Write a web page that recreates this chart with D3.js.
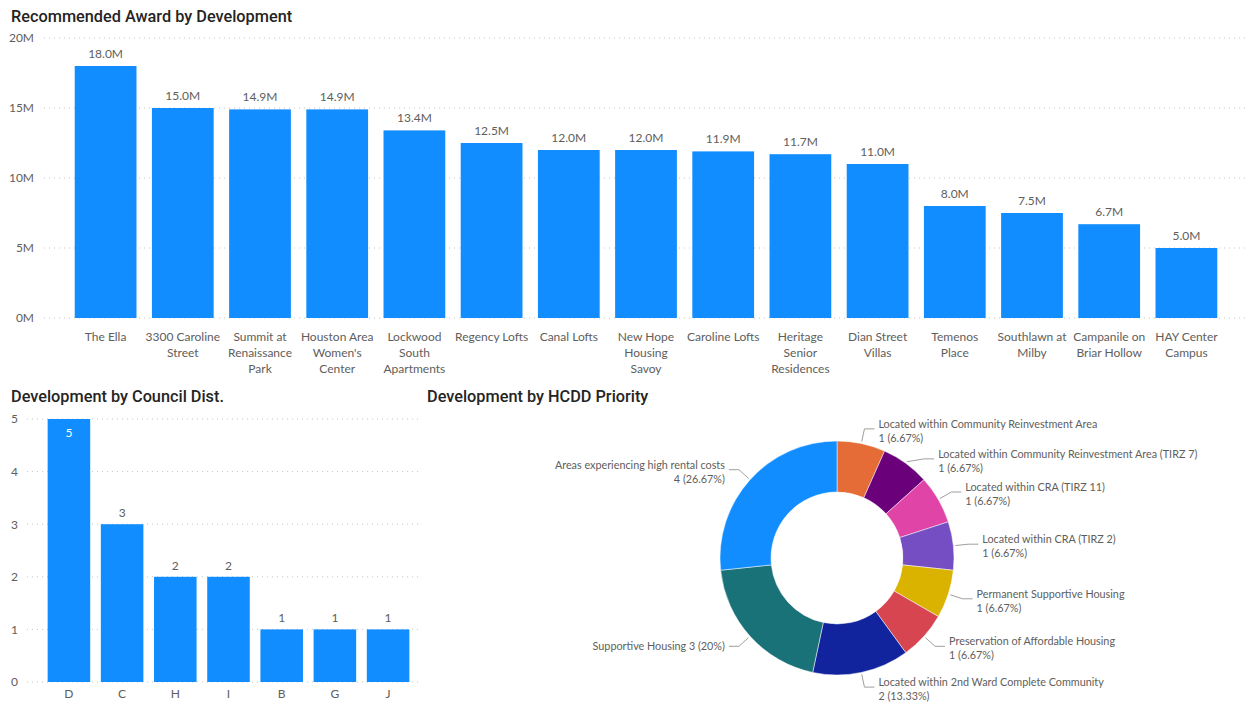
<!DOCTYPE html>
<html><head><meta charset="utf-8">
<script src="https://cdn.jsdelivr.net/npm/d3@7"></script>
<style>
html,body{margin:0;padding:0;background:#fff;}
svg{display:block;}
</style></head>
<body>
<svg id="chart" width="1245" height="702"></svg>
<script>
// ---------- DATA ----------
const developments = ["The Ella","3300 Caroline Street","Summit at Renaissance Park","Houston Area Women's Center","Lockwood South Apartments","Regency Lofts","Canal Lofts","New Hope Housing Savoy","Caroline Lofts","Heritage Senior Residences","Dian Street Villas","Temenos Place","Southlawn at Milby","Campanile on Briar Hollow","HAY Center Campus"];
const awards = [18.0e6,15.0e6,14.9e6,14.9e6,13.4e6,12.5e6,12.0e6,12.0e6,11.9e6,11.7e6,11.0e6,8.0e6,7.5e6,6.7e6,5.0e6];
const awardTicks = [0,5e6,10e6,15e6,20e6];

const districts = ["D","C","H","I","B","G","J"];
const districtCounts = [5,3,2,2,1,1,1];
const districtTicks = [0,1,2,3,4,5];

const priorities = ["Located within Community Reinvestment Area","Located within Community Reinvestment Area (TIRZ 7)","Located within CRA (TIRZ 11)","Located within CRA (TIRZ 2)","Permanent Supportive Housing","Preservation of Affordable Housing","Located within 2nd Ward Complete Community","Supportive Housing","Areas experiencing high rental costs"];
const priorityCounts = [1,1,1,1,1,1,2,3,4];
const priorityColors = ["#E66C37","#6B007B","#E044A7","#744EC2","#D9B300","#D64550","#12239E","#197278","#118DFF"];

// ---------- STYLE ----------
const BAR = "#118DFF";
const AXIS_TXT = "#605E5C";
const TITLE_TXT = "#252423";
const GRID = "#C8C6C4";
const FONT = "'Segoe UI','Lato','Open Sans',sans-serif";
const TITLE_FONT = "'DIN','Roboto','Noto Sans',sans-serif";
const FS = 12;

const svg = d3.select("#chart");

function title(x, y, t){
  svg.append("text").attr("x",x).attr("y",y).text(t)
    .attr("font-family",TITLE_FONT).attr("font-size",16.3).attr("font-weight",500)
    .attr("fill",TITLE_TXT);
}

function wrap(textSel, width){
  textSel.each(function(){
    const text = d3.select(this);
    const words = text.text().split(/\s+/);
    text.text(null);
    let line = [];
    let tspan = text.append("tspan").attr("x",0).attr("dy",0);
    words.forEach(w=>{
      line.push(w);
      tspan.text(line.join(" "));
      if (tspan.node().getComputedTextLength() > width && line.length>1){
        line.pop();
        tspan.text(line.join(" "));
        line=[w];
        tspan = text.append("tspan").attr("x",0).attr("dy",16).text(w);
      }
    });
  });
}

// ---------- TOP BAR CHART ----------
title(11, 22, "Recommended Award by Development");
{
  const x = d3.scaleBand().domain(developments).range([67,1225]).paddingInner(0.2).paddingOuter(0.1);
  const y = d3.scaleLinear().domain([0,20e6]).range([318,38]);
  const g = svg.append("g");
  g.selectAll("line.grid").data(awardTicks).join("line")
    .attr("x1",44).attr("x2",1245).attr("y1",d=>y(d)).attr("y2",d=>y(d))
    .attr("stroke",GRID).attr("stroke-width",1).attr("stroke-dasharray","1,4");
  const ya = g.append("g").attr("transform","translate(34,0)")
    .call(d3.axisLeft(y).tickValues(awardTicks).tickSize(0).tickPadding(0).tickFormat(d=>(d/1e6)+"M"));
  ya.select(".domain").remove();
  ya.selectAll("text").attr("font-family",FONT).attr("font-size",FS).attr("fill",AXIS_TXT);
  g.selectAll("rect.bar").data(awards).join("rect")
    .attr("x",(d,i)=>x(developments[i])).attr("width",x.bandwidth())
    .attr("y",d=>y(d)).attr("height",d=>y(0)-y(d)).attr("fill",BAR);
  g.selectAll("text.val").data(awards).join("text")
    .attr("x",(d,i)=>x(developments[i])+x.bandwidth()/2).attr("y",d=>y(d)-8)
    .attr("text-anchor","middle").attr("font-family",FONT).attr("font-size",FS).attr("fill",AXIS_TXT)
    .text(d=>d3.format(".1f")(d/1e6)+"M");
  const xa = g.append("g").attr("transform","translate(0,341)")
    .call(d3.axisBottom(x).tickSize(0).tickPadding(0));
  xa.select(".domain").remove();
  xa.selectAll("text").attr("font-family",FONT).attr("font-size",FS).attr("fill",AXIS_TXT)
    .attr("dy",0).attr("y",0).call(wrap, 76);
}

// ---------- BOTTOM LEFT BAR CHART ----------
title(11, 402, "Development by Council Dist.");
{
  const x = d3.scaleBand().domain(districts).range([37,420]).paddingInner(0.2).paddingOuter(0.2);
  const y = d3.scaleLinear().domain([0,5]).range([682,419]);
  const g = svg.append("g");
  g.selectAll("line.grid").data(districtTicks).join("line")
    .attr("x1",27).attr("x2",420).attr("y1",d=>y(d)).attr("y2",d=>y(d))
    .attr("stroke",GRID).attr("stroke-width",1).attr("stroke-dasharray","1,4");
  const ya = g.append("g").attr("transform","translate(18,0)")
    .call(d3.axisLeft(y).tickValues(districtTicks).tickSize(0).tickPadding(0).tickFormat(d3.format("d")));
  ya.select(".domain").remove();
  ya.selectAll("text").attr("font-family",FONT).attr("font-size",FS).attr("fill",AXIS_TXT);
  g.selectAll("rect.bar").data(districtCounts).join("rect")
    .attr("x",(d,i)=>x(districts[i])).attr("width",x.bandwidth())
    .attr("y",d=>y(d)).attr("height",d=>y(0)-y(d)).attr("fill",BAR);
  const inside = d => y(d)-20 < y.range()[1];
  g.selectAll("text.val").data(districtCounts).join("text")
    .attr("x",(d,i)=>x(districts[i])+x.bandwidth()/2)
    .attr("y",d=> inside(d) ? y(d)+18 : y(d)-7)
    .attr("text-anchor","middle").attr("font-family",FONT).attr("font-size",FS)
    .attr("fill",d=> inside(d) ? "#ffffff" : AXIS_TXT)
    .text(d=>d);
  const xa = g.append("g").attr("transform","translate(0,698)")
    .call(d3.axisBottom(x).tickSize(0).tickPadding(0));
  xa.select(".domain").remove();
  xa.selectAll("text").attr("font-family",FONT).attr("font-size",FS).attr("fill",AXIS_TXT).attr("dy",0);
}

// ---------- DONUT ----------
title(427, 402, "Development by HCDD Priority");
{
  const cx = 837, cy = 558, R = 117, r = 66, RL = R + 15;
  const total = d3.sum(priorityCounts);
  const pie = d3.pie().sort(null).value(d=>d)(priorityCounts);
  const arc = d3.arc().innerRadius(r).outerRadius(R);
  const g = svg.append("g").attr("transform",`translate(${cx},${cy})`);
  g.selectAll("path").data(pie).join("path").attr("d",arc)
    .attr("fill",(d,i)=>priorityColors[i]).attr("stroke","#fff").attr("stroke-width",0.5);
  const fmtPct = v => { const p = v/total*100; return (Math.round(p*100)/100) + "%"; };

  const items = pie.map((d,i)=>{
    const a = (d.startAngle+d.endAngle)/2;
    const s = Math.sin(a), c = -Math.cos(a);
    return {d, i, a, s, c, right: s>=0, ly: RL*c};
  });
  ["right","left"].forEach(side=>{
    const list = items.filter(o=> side==="right" ? o.right : !o.right).sort((p,q)=>p.ly-q.ly);
    for (let k=1;k<list.length;k++){
      if (list[k].ly < list[k-1].ly + 30) list[k].ly = list[k-1].ly + 30;
    }
  });
  items.forEach(o=>{
    const {d,i,s,c,right} = o;
    const p0 = [ (R+2)*s, (R+2)*c ];
    let ex = RL*s;
    if (Math.abs(o.ly) < RL) {
      const alt = Math.sqrt(RL*RL - o.ly*o.ly);
      ex = right ? Math.max(RL*s, Math.min(alt, RL*s + 14)) : -Math.max(-RL*s, Math.min(alt, -RL*s + 14));
    }
    const p1 = [ ex, o.ly ];
    const p2 = [ p1[0] + (right?10:-10), p1[1] ];
    g.append("polyline").attr("points",[p0,p1,p2].map(p=>p.join(",")).join(" "))
      .attr("fill","none").attr("stroke","#A19F9D").attr("stroke-width",1);
    const tx = p2[0] + (right?4:-4);
    const valTxt = `${d.data} (${fmtPct(d.data)})`;
    const name = priorities[i];
    const t = g.append("text").attr("text-anchor", right?"start":"end")
      .attr("font-family",FONT).attr("font-size",10.8).attr("fill",AXIS_TXT);
    if (!right && name.length < 20){
      t.append("tspan").attr("x",tx).attr("y",p1[1]+4).text(name+" "+valTxt);
    } else {
      t.append("tspan").attr("x",tx).attr("y",p1[1]-1).text(name);
      t.append("tspan").attr("x",tx).attr("y",p1[1]+13).text(valTxt);
    }
  });
}
</script>
</body></html>
